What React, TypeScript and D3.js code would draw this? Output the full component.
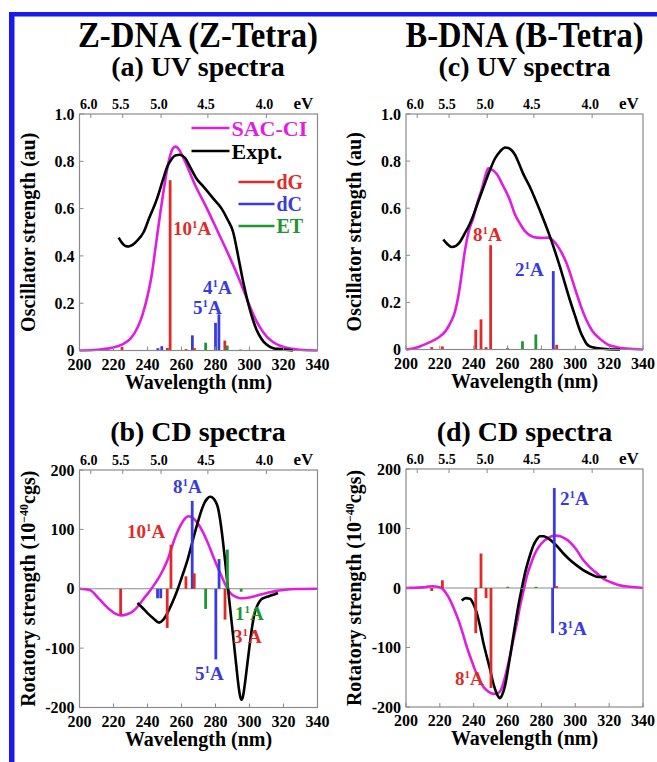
import React from "react";
import * as d3 from "d3";

const wlTicks = [200, 220, 240, 260, 280, 300, 320, 340];
const evTicks = [6.0, 5.5, 5.0, 4.5, 4.0];
const uvTicks = [0, 0.2, 0.4, 0.6, 0.8, 1.0];
const cdTicks = [-200, -100, 0, 100, 200];

type Pt = [number, number];
type Stick = [number, number, string];
type Lab = [string, number, number, string];

// (a) Z-DNA UV
const zUvSac: Pt[] = [[200,0],[210,0.003],[218,0.01],[225,0.025],[230,0.05],[234,0.095],[237,0.15],[240,0.23],[242.5,0.32],[245,0.45],[247.5,0.58],[250,0.7],[252.5,0.8],[255,0.855],[256.5,0.862],[258.5,0.85],[262,0.8],[268,0.7],[275,0.6],[281.5,0.5],[288,0.4],[294,0.3],[299.5,0.2],[303,0.14],[306,0.1],[310,0.06],[314,0.035],[318,0.02],[324,0.008],[330,0.003],[340,0]];
const zUvExpt: Pt[] = [[223,0.477],[225,0.455],[227,0.442],[229,0.44],[231,0.446],[234,0.465],[237.7,0.5],[241,0.56],[245.5,0.64],[249,0.72],[251.5,0.775],[254,0.808],[256.5,0.825],[259,0.828],[262,0.815],[265.5,0.77],[269,0.725],[272,0.7],[275,0.675],[279,0.64],[283.6,0.6],[287,0.555],[290.4,0.5],[293.3,0.4],[296,0.3],[299.2,0.2],[302,0.13],[304,0.09],[307,0.05],[310,0.025],[314,0.01],[318,0.006],[325.5,0]];
const zUvSticks: Stick[] = [[225,0.015,"dG"],[246.1,0.01,"dC"],[248.4,0.018,"dC"],[251.7,0.011,"dG"],[253.3,0.72,"dG"],[262.7,0.006,"dG"],[266.4,0.064,"dC"],[267.6,0.01,"dG"],[274.2,0.033,"ET"],[280,0.117,"dC"],[282,0.153,"dC"],[285.5,0.042,"dG"],[286.9,0.021,"ET"],[294.7,0.004,"ET"]];
const zUvLabels: Lab[] = [["10",255,0.488,"dG"],["4",272.6,0.24,"dC"],["5",266.8,0.155,"dC"]];

// (c) B-DNA UV
const bUvSac: Pt[] = [[200,0],[207,0.01],[214,0.031],[219,0.05],[223,0.075],[226,0.11],[228.9,0.16],[231,0.23],[232.5,0.3],[234.8,0.42],[237,0.5],[239.8,0.56],[242,0.62],[244.7,0.68],[247,0.74],[248.6,0.769],[250.5,0.765],[253.6,0.745],[257,0.7],[261.4,0.634],[264,0.58],[267.3,0.535],[270,0.505],[273.2,0.485],[277.2,0.475],[281,0.474],[284,0.475],[287,0.462],[289.5,0.44],[292,0.41],[294.9,0.365],[298,0.3],[300.8,0.237],[303.5,0.18],[306.7,0.123],[310,0.08],[314.6,0.045],[319,0.022],[324.5,0.01],[330,0.004],[340,0]];
const bUvExpt: Pt[] = [[222,0.467],[224.5,0.447],[227,0.435],[229.5,0.44],[231.9,0.457],[234.5,0.49],[237.8,0.535],[243.7,0.648],[249.6,0.762],[252.5,0.81],[255.5,0.84],[258.5,0.858],[260.5,0.856],[262.4,0.846],[264.5,0.825],[266.3,0.797],[269,0.75],[273.2,0.69],[279.1,0.59],[285.1,0.478],[291,0.35],[296.9,0.208],[300,0.14],[302.8,0.08],[305,0.045],[306.7,0.024],[309,0.012],[312.6,0.006],[318,0.002],[326.4,0]];
const bUvSticks: Stick[] = [[215.2,0.01,"dG"],[221.5,0.013,"dG"],[241.2,0.084,"dG"],[244.3,0.128,"dG"],[247.3,0.01,"dG"],[250,0.443,"dG"],[260,0.006,"ET"],[268.8,0.035,"ET"],[276.7,0.064,"ET"],[287,0.333,"dC"],[289,0.02,"dG"]];
const bUvLabels: Lab[] = [["8",239.6,0.459,"dG"],["2",264.4,0.31,"dC"]];

// (b) Z-DNA CD
const zCdSac: Pt[] = [[200,0],[206,-2],[211.8,-18],[217.7,-35],[221,-42],[224.6,-45],[228,-43],[231.5,-38],[234.5,-29],[237.4,-18],[240.5,-7],[243.3,4],[246.5,18],[249.2,32],[252,50],[255.1,77],[257.5,95],[260.1,110],[262,118],[264,122],[266,120.5],[267.9,116],[270.5,106],[272.8,94],[275.5,77],[278.7,54],[281,38],[283.6,21],[286,6],[288.6,-7],[291.5,-13],[294.5,-16],[298,-15.5],[302.4,-13],[306,-10],[310.2,-7],[315,-4],[320,-2],[328,-0.5],[340,0]];
const zCdExpt: Pt[] = [[234.1,-24],[237,-32],[240,-41],[243.5,-50],[246.8,-57],[249.3,-52],[251.7,-41],[254.5,-24],[257.6,-2],[260.5,22],[263.6,49],[266.5,80],[269.4,110],[271.5,130],[273.4,144],[275.2,152],[276.8,155],[278.5,153],[280,147],[281.3,138],[282.8,115],[284.3,82],[285.8,43],[287.2,4],[288.7,-35],[290.2,-75],[291.7,-115],[293.1,-153],[294.1,-175],[295.1,-187],[296.1,-182],[297.1,-164],[298.5,-132],[300,-97],[301.5,-65],[303,-41],[305,-26],[306.9,-18],[308.9,-15],[310.9,-13],[313,-11],[316.7,-7]];
const zCdSticks: Stick[] = [[224.2,-44,"dG"],[245.9,-16,"dC"],[247.8,-16,"dC"],[251.6,-66,"dG"],[253.8,74,"dG"],[262.6,21,"dG"],[266.3,148,"dC"],[267.5,26,"dG"],[274.2,-34,"ET"],[280.2,-119,"dC"],[282.1,50,"dC"],[285.6,-52,"dG"],[287,66,"ET"],[295.1,-5,"ET"]];
const zCdLabels: Lab[] = [["8",255,161,"dC"],["10",227.9,85.4,"dG"],["1",291.5,-52.6,"ET"],["3",290.3,-91.3,"dG"],["5",267.9,-153.6,"dC"]];

// (d) B-DNA CD
const bCdSac: Pt[] = [[200,0],[205,0.5],[210.2,1],[213,2.5],[216.1,3],[218.5,2],[221,0],[223.5,-8],[226,-20],[228.5,-36],[231,-54],[233.5,-76],[235.9,-99],[238.5,-120],[240.8,-138],[243.3,-154],[245.7,-166],[248.5,-174],[251.6,-178],[253.5,-177.5],[255.5,-174],[257.5,-160],[259.5,-138],[261.5,-113],[263.4,-87],[265.5,-59],[267.3,-31],[269.3,-6],[271.3,19],[273.7,40],[276.2,58],[278.7,70],[281.1,78],[283.5,83],[286,87],[288.5,88],[291,87],[294,83],[296.9,77],[300.5,65],[304.7,47],[308.5,35],[312.6,25],[317,15],[322.5,8],[327,4],[332.3,2],[340,0]];
const bCdExpt: Pt[] = [[232.9,-21],[235.3,-17],[237.8,-18],[239.8,-27],[241.7,-41],[243.7,-64],[245.7,-92],[247.7,-115],[249.6,-136],[251.1,-155],[252.6,-170],[254,-180],[255.5,-185],[257,-178],[258.5,-164],[260.4,-134],[262.4,-99],[264.3,-65],[266.3,-31],[268.3,-2],[270.3,25],[272.7,50],[275.2,71],[277.1,81],[279.1,87],[281.1,87],[283.1,85],[286,79],[289,71],[293,58],[296.9,47],[300.8,38],[304.7,30],[308.6,24],[312.6,19],[315.5,18.5],[318.5,19]];
const bCdSticks: Stick[] = [[215.2,-5,"dG"],[221.5,13,"dG"],[241.2,-76,"dG"],[244.3,58,"dG"],[247.3,-17,"dG"],[250.2,-168,"dG"],[260.1,2,"ET"],[268.3,-2,"ET"],[276.8,2,"ET"],[286.6,-76,"dC"],[287.6,168,"dC"],[289,3,"dG"]];
const bCdLabels: Lab[] = [["2",291,139.5,"dC"],["3",289.8,-79,"dC"],["8",228.9,-163,"dG"]];

const COLORS: Record<string, string> = { dG: "#e02a2a", dC: "#3a3ae0", ET: "#1e9632", sac: "#e01ee0", expt: "#000000" };
const FONT = "Liberation Serif, Times New Roman, serif";

function Panel(props: any) {
  const { x0, x1, yTop, yBot, yDomain, yTicks, yFmt, sac, expt, sticks, labels, zero, yLabel, cd, legend } = props;
  const xs = d3.scaleLinear().domain([200, 340]).range([x0, x1]);
  const ys = d3.scaleLinear().domain(yDomain).range([yBot, yTop]);
  const line = d3.line<Pt>().x(d => xs(d[0])).y(d => ys(d[1])).curve(d3.curveMonotoneX);
  const yMid = (yTop + yBot) / 2;
  return (
    <g fontFamily={FONT} fontWeight="bold">
      {zero && <line x1={x0} x2={x1} y1={ys(0)} y2={ys(0)} stroke="#8a8a8a" strokeWidth={1.2} />}
      <path d={line(sac) || ""} fill="none" stroke={COLORS.sac} strokeWidth={2.6} />
      <path d={line(expt) || ""} fill="none" stroke={COLORS.expt} strokeWidth={2.6} />
      {sticks.map((s: Stick, i: number) => (
        <line key={i} x1={xs(s[0])} x2={xs(s[0])} y1={ys(0)} y2={ys(s[1])} stroke={COLORS[s[2]]} strokeWidth={2.8} />
      ))}
      <rect x={x0} y={yTop} width={x1 - x0} height={yBot - yTop} fill="none" stroke="#8a8a8a" strokeWidth={1.2} />
      {wlTicks.map(t => (
        <g key={t}>
          <line x1={xs(t)} x2={xs(t)} y1={yBot} y2={yBot - 4} stroke="#8a8a8a" />
          <text x={xs(t)} y={yBot + 19} fontSize={16} textAnchor="middle">{t}</text>
        </g>
      ))}
      {evTicks.map(e => {
        const x = xs(1239.84 / e);
        return (
          <g key={e}>
            <line x1={x} x2={x} y1={yTop} y2={yTop + 4} stroke="#8a8a8a" />
            <text x={x - 2} y={yTop - 5} fontSize={14} textAnchor="middle">{e.toFixed(1)}</text>
          </g>
        );
      })}
      <text x={x1 - 14} y={yTop - 5} fontSize={17} textAnchor="middle">eV</text>
      {yTicks.map((t: number) => (
        <g key={t}>
          <line x1={x0} x2={x0 + 4} y1={ys(t)} y2={ys(t)} stroke="#8a8a8a" />
          <text x={x0 - 5} y={ys(t)} dy="0.35em" fontSize={16} textAnchor="end">{yFmt(t)}</text>
        </g>
      ))}
      <text x={(x0 + x1) / 2} y={yBot + 38} fontSize={20} textAnchor="middle">Wavelength (nm)</text>
      <text transform={`translate(${x0 - 45},${yMid}) rotate(-90)`} fontSize={20} textAnchor="middle">
        {cd ? (<><tspan>Rotatory strength (10</tspan><tspan dy={-7} fontSize={12}>−40</tspan><tspan dy={7}>cgs)</tspan></>) : yLabel}
      </text>
      {labels.map((l: Lab, i: number) => (
        <text key={i} x={xs(l[1])} y={ys(l[2])} fontSize={19} fill={COLORS[l[3]]}>
          <tspan>{l[0]}</tspan><tspan dy={-7} fontSize={11}>1</tspan><tspan dy={7}>A</tspan>
        </text>
      ))}
      {legend && (
        <g>
          {[["SAC-CI", "sac"], ["Expt.", "expt"]].map((d, i) => (
            <g key={d[0]}>
              <line x1={x1 - 126} x2={x1 - 88} y1={yTop + 14 + i * 23} y2={yTop + 14 + i * 23} stroke={COLORS[d[1]]} strokeWidth={2.6} />
              <text x={x1 - 86} y={yTop + 14 + i * 23} dy="0.35em" fontSize={22} fill={COLORS[d[1]]}>{d[0]}</text>
            </g>
          ))}
          {["dG", "dC", "ET"].map((d, i) => (
            <g key={d}>
              <line x1={x1 - 79} x2={x1 - 43} y1={yTop + 68 + i * 22} y2={yTop + 68 + i * 22} stroke={COLORS[d]} strokeWidth={2.6} />
              <text x={x1 - 41} y={yTop + 68 + i * 22} dy="0.35em" fontSize={20} fill={COLORS[d]}>{d}</text>
            </g>
          ))}
        </g>
      )}
    </g>
  );
}

const uvFmt = (t: number) => (t === 0 ? "0" : t.toFixed(1));
const cdFmt = (t: number) => (t < 0 ? "-" + Math.abs(t) : String(t));

export default function App() {
  return (
    <div style={{ position: "absolute", left: 0, top: 0 }}>
      <svg width={657} height={762} style={{ display: "block", background: "#fff" }}>
        <rect x={9} y={12} width={648} height={4.5} fill="#1a1aee" />
        <rect x={9} y={12} width={5.5} height={750} fill="#1a1aee" />
        <g fontFamily={FONT} fontWeight="bold" textAnchor="middle">
          <text x={198} y={47} fontSize={35} textLength={240} lengthAdjust="spacingAndGlyphs">Z-DNA (Z-Tetra)</text>
          <text x={524.5} y={47} fontSize={35} textLength={238} lengthAdjust="spacingAndGlyphs">B-DNA (B-Tetra)</text>
          <text x={198} y={76} fontSize={28}>(a) UV spectra</text>
          <text x={524.5} y={76} fontSize={28}>(c) UV spectra</text>
          <text x={198} y={441} fontSize={28}>(b) CD spectra</text>
          <text x={524.5} y={441} fontSize={28}>(d) CD spectra</text>
        </g>
        <Panel x0={79.5} x1={317.5} yTop={114} yBot={350.5} yDomain={[0, 1]} yTicks={uvTicks} yFmt={uvFmt}
          sac={zUvSac} expt={zUvExpt} sticks={zUvSticks} labels={zUvLabels} yLabel="Oscillator strength (au)" legend />
        <Panel x0={406} x1={643} yTop={114} yBot={349.5} yDomain={[0, 1]} yTicks={uvTicks} yFmt={uvFmt}
          sac={bUvSac} expt={bUvExpt} sticks={bUvSticks} labels={bUvLabels} yLabel="Oscillator strength (au)" />
        <Panel x0={79.5} x1={317.5} yTop={470} yBot={707.5} yDomain={[-200, 200]} yTicks={cdTicks} yFmt={cdFmt}
          sac={zCdSac} expt={zCdExpt} sticks={zCdSticks} labels={zCdLabels} zero cd />
        <Panel x0={406} x1={643} yTop={469} yBot={707} yDomain={[-200, 200]} yTicks={cdTicks} yFmt={cdFmt}
          sac={bCdSac} expt={bCdExpt} sticks={bCdSticks} labels={bCdLabels} zero cd />
      </svg>
    </div>
  );
}
